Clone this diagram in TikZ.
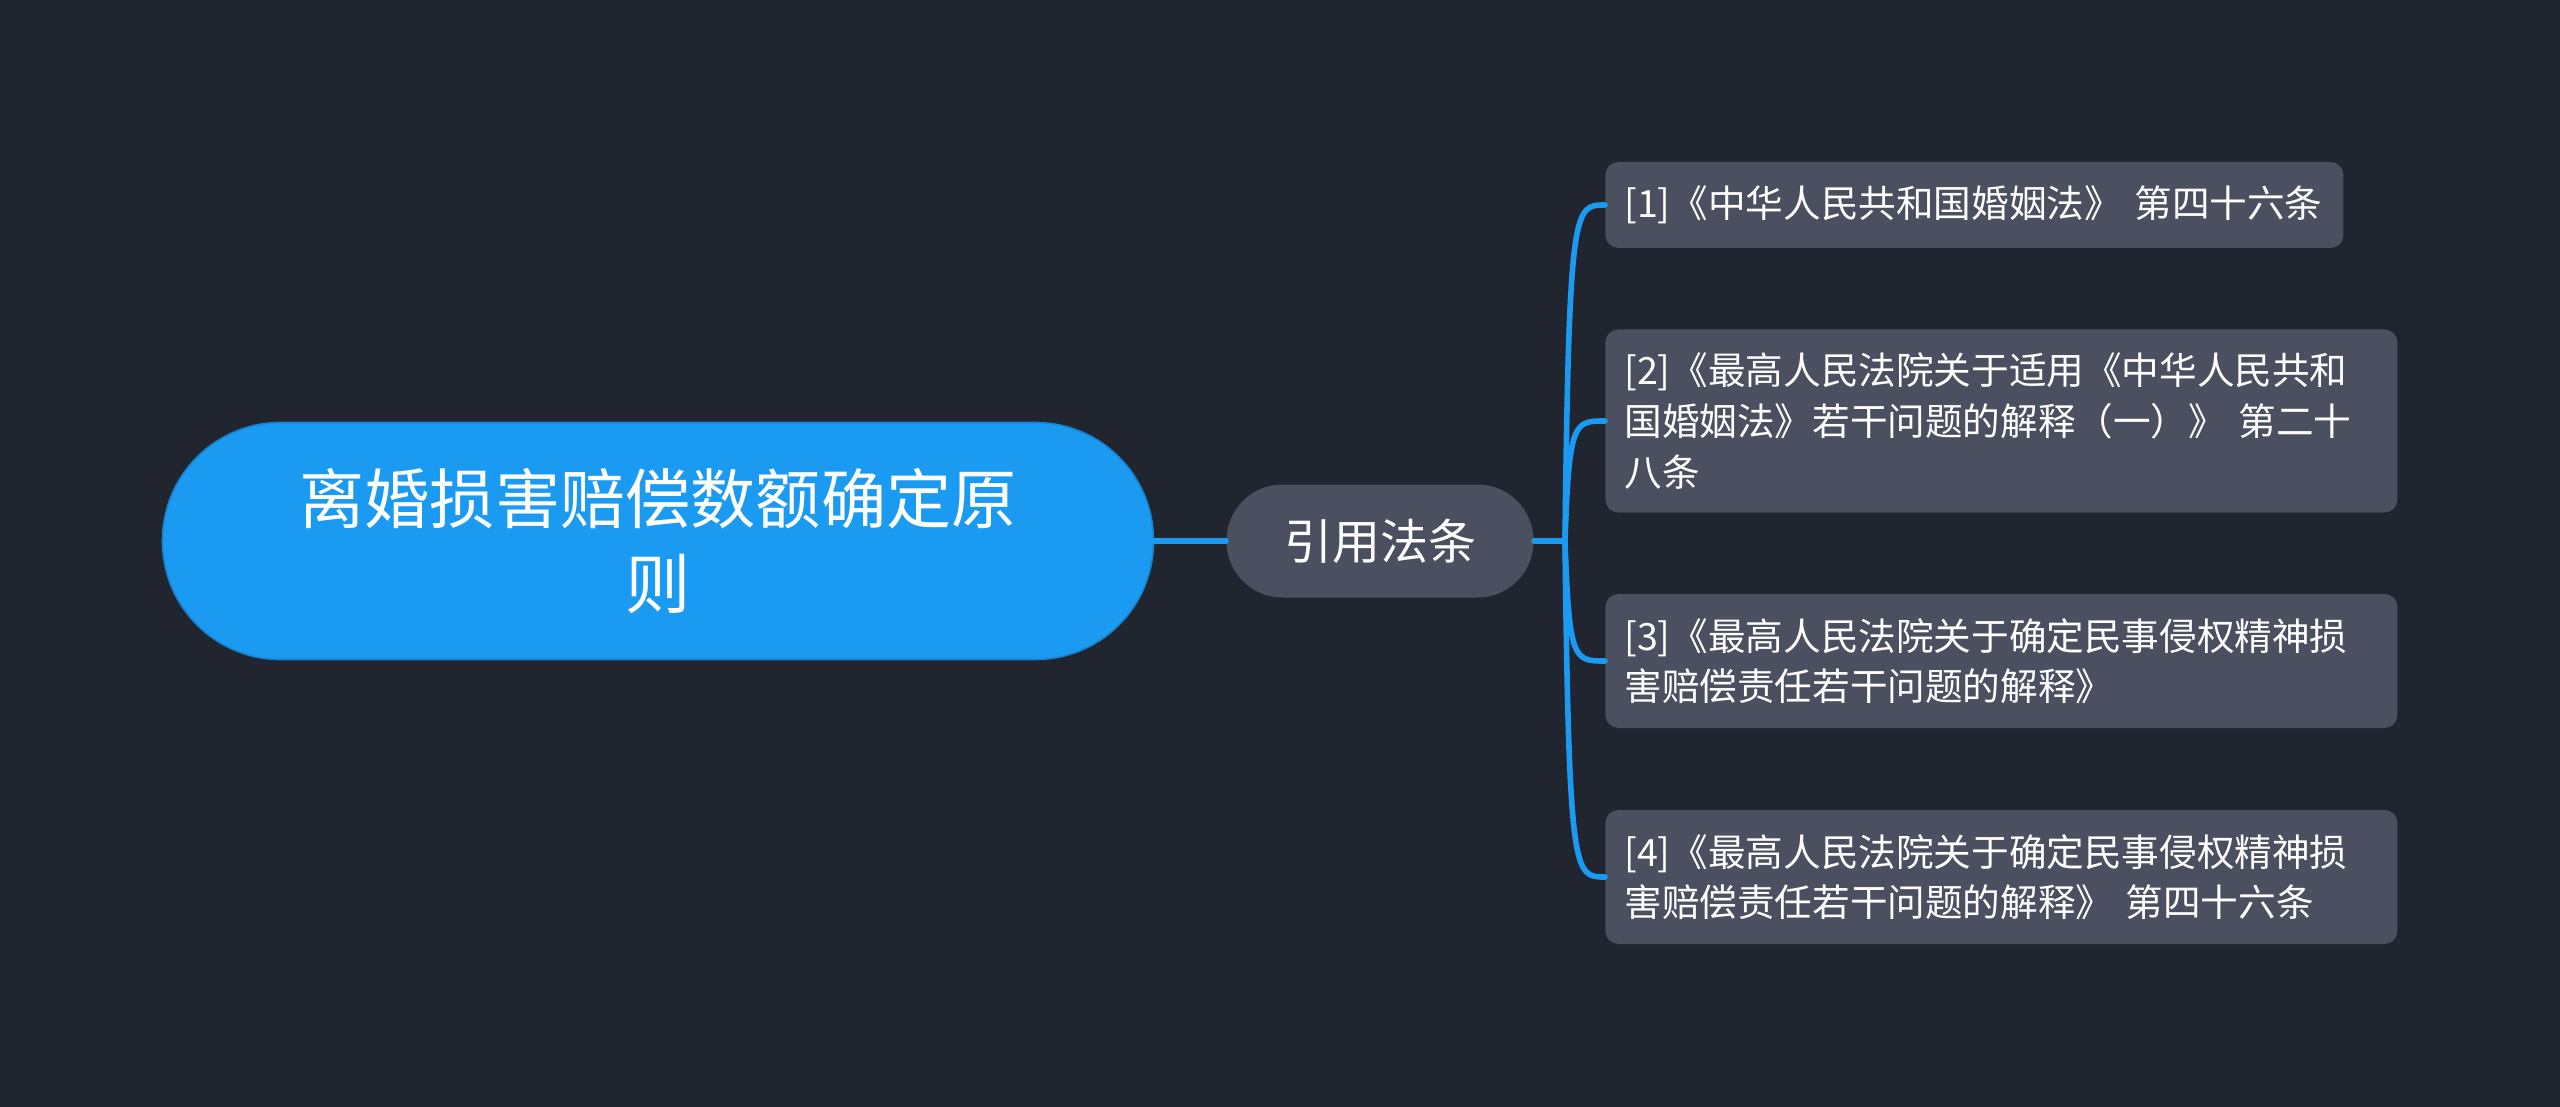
\documentclass[tikz,border=0pt]{standalone}
\usepackage{fontspec}
\setmainfont{Noto Sans CJK SC}
\usetikzlibrary{calc}
\definecolor{bgc}{HTML}{21252F}
\definecolor{rootc}{HTML}{1A9AF0}
\definecolor{rootb}{HTML}{1683CF}
\definecolor{boxc}{HTML}{4A5060}
\definecolor{linec}{HTML}{1A9AF0}
\tikzset{
  rootbox/.style={fill=rootc, draw=rootb, line width=0.8pt, rounded corners=59pt,
    minimum width=495.5pt, minimum height=118.5pt, text=white, align=center,
    inner sep=0pt, font=\fontsize{32.6pt}{42.5pt}\selectfont},
  midbox/.style={fill=boxc, rounded corners=28pt, minimum width=153.5pt,
    minimum height=56.5pt, text=white, inner sep=0pt,
    font=\fontsize{24pt}{30pt}\selectfont},
  leafbox/.style={fill=boxc, rounded corners=6.5pt, anchor=west, text=white,
    align=left, inner xsep=9.5pt, inner ysep=0pt,
    font=\fontsize{18.8pt}{25.3pt}\selectfont},
  conn/.style={draw=linec, line width=2.8pt, line cap=round}
}
\begin{document}
\begin{tikzpicture}[x=0.5pt,y=-0.5pt]
\fill[bgc] (0,0) rectangle (2560,1107);
\useasboundingbox (0,0) rectangle (2560,1107);

\node[rootbox] (root) at (658,541) {离婚损害赔偿数额确定原\\则};
\node[midbox] (mid) at (1380,541) {引用法条};
\coordinate (b) at (1565,541);

\node[leafbox, text width=350pt, minimum height=43pt] (l1) at (1605,205)
  {[1]《中华人民共和国婚姻法》 第四十六条};
\node[leafbox, text width=377pt, minimum height=91.5pt] (l2) at (1605,421)
  {[2]《最高人民法院关于适用《中华人民共和\\国婚姻法》若干问题的解释（一）》 第二十\\八条};
\node[leafbox, text width=377pt, minimum height=67pt] (l3) at (1605,661)
  {[3]《最高人民法院关于确定民事侵权精神损\\害赔偿责任若干问题的解释》};
\node[leafbox, text width=377pt, minimum height=67pt] (l4) at (1605,877)
  {[4]《最高人民法院关于确定民事侵权精神损\\害赔偿责任若干问题的解释》 第四十六条};

\draw[conn] (root.east) -- (mid.west);
\draw[conn] (mid.east) -- (b);
\foreach \l in {l1,l2,l3,l4}{
  \draw[conn] (b) .. controls ($(b |- \l.west)+(4,0)$) and ($(b |- \l.west)+(9,0)$) .. (\l.west);
}
\end{tikzpicture}
\end{document}
